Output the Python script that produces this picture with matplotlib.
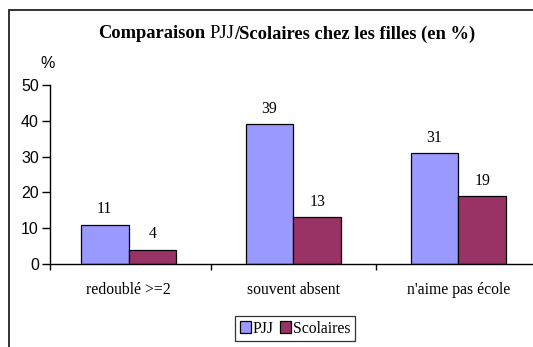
import matplotlib
matplotlib.use('Agg')
import matplotlib.pyplot as plt
from matplotlib.patches import Rectangle, Patch
import numpy as np

categories = ['redoublé >=2', 'souvent absent', "n'aime pas école"]
pjj = [11, 39, 31]
scolaires = [4, 13, 19]
series_names = ['PJJ', 'Scolaires']
yticks = [0, 10, 20, 30, 40, 50]

W, H = 533, 347
DPI = 100
serif = ['Liberation Serif', 'DejaVu Serif']
sans = ['Liberation Sans', 'DejaVu Sans']
fs = 11.3

fig = plt.figure(figsize=(W / DPI, H / DPI), dpi=DPI)

# outer chart frame (runs off the right and bottom edges)
frame = Rectangle((8.5 / W, -0.2), 1.2, 1.2 - 10 / H, transform=fig.transFigure,
                  fill=False, edgecolor='#222222', linewidth=1.3, zorder=0)
fig.patches.append(frame)

ax = fig.add_axes([50 / W, (H - 264) / H, (W - 50) / W, (264 - 85) / H])
x = np.arange(len(categories))
bw = 0.29
b1 = ax.bar(x - bw / 2, pjj, bw, color='#9999FF', edgecolor='black', linewidth=0.9)
b2 = ax.bar(x + bw / 2, scolaires, bw, color='#993366', edgecolor='black', linewidth=0.9)

for bars, vals in ((b1, pjj), (b2, scolaires)):
    for rect, v in zip(bars, vals):
        ax.annotate('%d' % v, (rect.get_x() + rect.get_width() / 2, v),
                    xytext=(0, 11), textcoords='offset points',
                    ha='center', va='center', fontsize=fs, family=serif)

xmin, xmax = -0.476, 2.452
ax.set_xlim(xmin, xmax)
ax.set_ylim(0, 50)
for s in ('top', 'right'):
    ax.spines[s].set_visible(False)
for s in ('left', 'bottom'):
    ax.spines[s].set_linewidth(1.0)

ax.set_yticks(yticks)
ax.set_yticklabels([str(t) for t in yticks], family=sans, fontsize=11.5)
ax.tick_params(axis='y', direction='out', length=5.5, width=1, pad=2.5)

# divider ticks between categories, labels centred under each group
ax.set_xticks([xmin, 0.5, 1.5])
ax.set_xticklabels([])
ax.tick_params(axis='x', which='major', direction='out', length=4.5, width=1)
ax.set_xticks(x, minor=True)
ax.set_xticklabels(categories, minor=True, family=serif, fontsize=fs)
ax.tick_params(axis='x', which='minor', length=0, pad=13)

fig.text(48 / W, 1 - 64 / H, '%', ha='center', va='center', family=sans, fontsize=11.5)

# title: "PJJ" is set in regular weight, the rest in bold
parts = [('Comparaison', 'bold'), ('PJJ', 'normal'),
         ('/Scolaires chez les filles (en %)', 'bold')]
renderer = fig.canvas.get_renderer()
texts = []
for s, w in parts:
    t = fig.text(0, 1 - 34 / H, s, ha='left', va='center', family=serif,
                 fontsize=13.3, fontweight=w)
    texts.append(t)
widths = [t.get_window_extent(renderer).width for t in texts]
space = 4.5
total = sum(widths) + space
xpos = 287 - total / 2
for i, t in enumerate(texts):
    t.set_x(xpos / W)
    xpos += widths[i] + (space if i == 0 else 0)

handles = [Patch(facecolor='#9999FF', edgecolor='black', linewidth=0.9),
           Patch(facecolor='#993366', edgecolor='black', linewidth=0.9)]
leg = fig.legend(handles, series_names, loc='upper left',
                 bbox_to_anchor=(235 / W, 1 - 316 / H), ncol=2,
                 prop={'family': serif, 'size': fs}, frameon=True, fancybox=False,
                 handlelength=0.75, handleheight=0.75, handletextpad=0.1,
                 columnspacing=0.35, borderpad=0.3, borderaxespad=0)
leg.get_frame().set_edgecolor('black')
leg.get_frame().set_linewidth(0.9)

fig.savefig('out.png', dpi=DPI)
